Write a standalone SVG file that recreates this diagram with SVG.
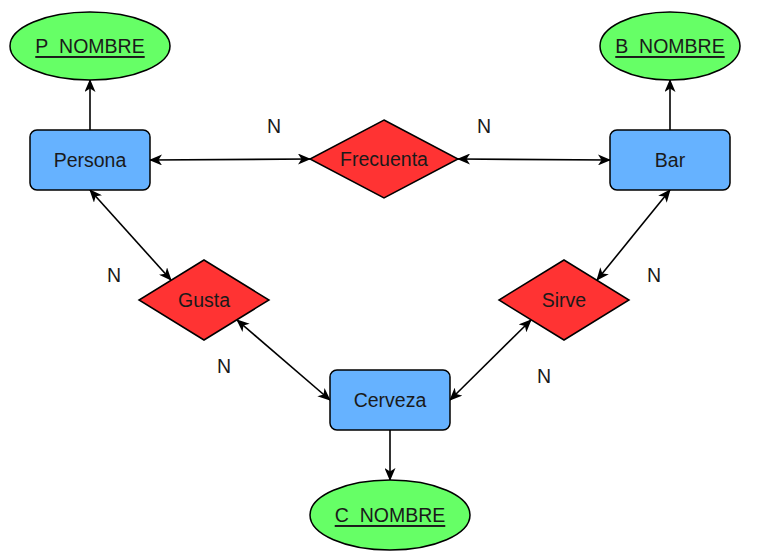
<svg xmlns="http://www.w3.org/2000/svg" width="767" height="559" viewBox="0 0 767 559">
<style>
.ent{fill:#66b2ff;stroke:#000;stroke-width:1.5}
.rel{fill:#ff3333;stroke:#000;stroke-width:1.5}
.att{fill:#66ff66;stroke:#000;stroke-width:1.5}
.t{font-family:"Liberation Sans",Arial,sans-serif;font-size:19.5px;fill:#1a1a1a;text-anchor:middle;dominant-baseline:central}
.u{text-decoration:underline}
.c{stroke:#000;stroke-width:1.6;fill:none;marker-end:url(#a)}
.cb{stroke:#000;stroke-width:1.6;fill:none;marker-end:url(#a);marker-start:url(#s)}
</style>
<defs>
<marker id="a" viewBox="0 0 13 11" refX="12" refY="5.5" markerWidth="13" markerHeight="11" markerUnits="userSpaceOnUse" orient="auto">
<path d="M0,0 L13,5.5 L0,11 L3.5,5.5 Z" fill="#000"/>
</marker>
<marker id="s" viewBox="0 0 13 11" refX="1" refY="5.5" markerWidth="13" markerHeight="11" markerUnits="userSpaceOnUse" orient="auto">
<path d="M13,0 L0,5.5 L13,11 L9.5,5.5 Z" fill="#000"/>
</marker>
</defs>
<g id="connectors">
<line class="c" x1="90" y1="130" x2="90" y2="80"/>
<line class="c" x1="670" y1="130" x2="670" y2="80"/>
<line class="c" x1="390" y1="430" x2="390" y2="480"/>
<line class="cb" x1="150" y1="160" x2="310" y2="159"/>
<line class="cb" x1="458" y1="159" x2="610" y2="160"/>
<line class="cb" x1="90" y1="190" x2="171" y2="280"/>
<line class="cb" x1="237" y1="320" x2="330" y2="400"/>
<line class="cb" x1="597" y1="280" x2="670" y2="190"/>
<line class="cb" x1="531" y1="320" x2="450" y2="400"/>
</g>
<g id="P_NOMBRE"><ellipse class="att" cx="90" cy="46" rx="80" ry="34"/><text class="t u" x="90" y="46">P_NOMBRE</text></g>
<g id="B_NOMBRE"><ellipse class="att" cx="670" cy="46" rx="70" ry="34"/><text class="t u" x="670" y="46">B_NOMBRE</text></g>
<g id="C_NOMBRE"><ellipse class="att" cx="390" cy="515" rx="80" ry="35"/><text class="t u" x="390" y="515">C_NOMBRE</text></g>
<g id="Persona"><rect class="ent" x="30" y="130" width="120" height="60" rx="7"/><text class="t" x="90" y="160">Persona</text></g>
<g id="Bar"><rect class="ent" x="610" y="130" width="120" height="60" rx="7"/><text class="t" x="670" y="160">Bar</text></g>
<g id="Cerveza"><rect class="ent" x="330" y="370" width="120" height="60" rx="7"/><text class="t" x="390" y="400">Cerveza</text></g>
<g id="Frecuenta"><polygon class="rel" points="384,120 458,159 384,198 310,159"/><text class="t" x="384" y="159">Frecuenta</text></g>
<g id="Gusta"><polygon class="rel" points="204,260 269,300 204,340 139,300"/><text class="t" x="204" y="300">Gusta</text></g>
<g id="Sirve"><polygon class="rel" points="564,260 629,300 564,340 499,300"/><text class="t" x="564" y="300">Sirve</text></g>
<g id="labels">
<text class="t" x="274" y="126">N</text>
<text class="t" x="484" y="126">N</text>
<text class="t" x="114" y="275">N</text>
<text class="t" x="224" y="366">N</text>
<text class="t" x="654" y="275">N</text>
<text class="t" x="544" y="376">N</text>
</g>
</svg>
